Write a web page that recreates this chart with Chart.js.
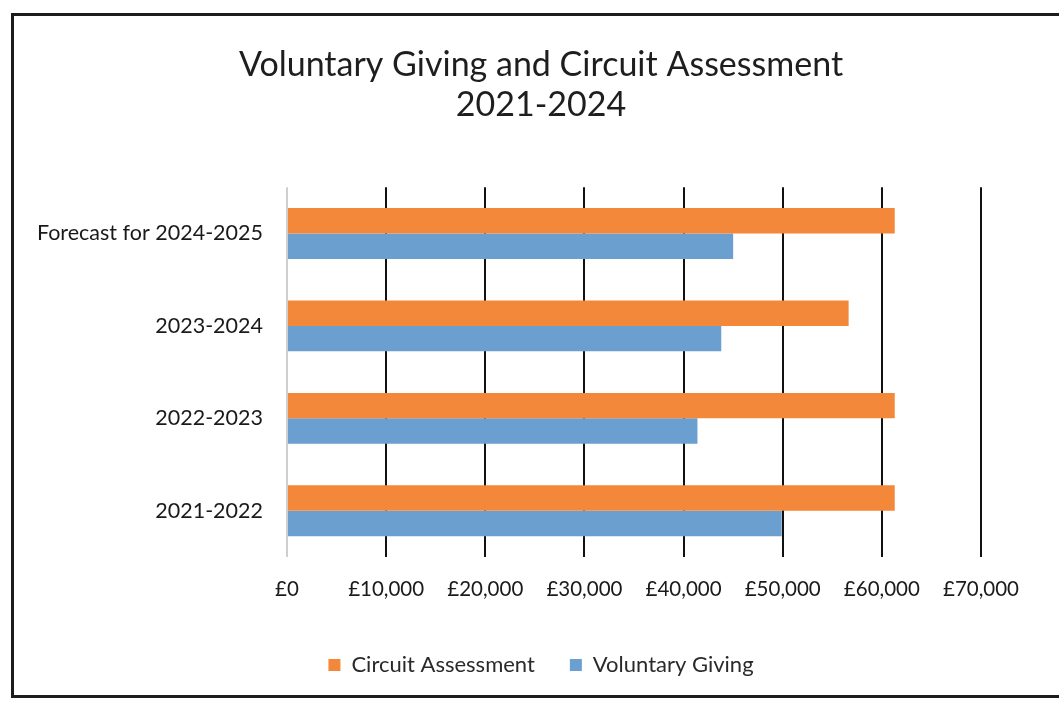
<!DOCTYPE html>
<html lang="en">
<head>
    <meta charset="UTF-8">
    <title>Voluntary Giving and Circuit Assessment</title>
    <script src="https://cdn.jsdelivr.net/npm/chart.js"></script>
    <style>
        body {
            margin: 0;
            background: #ffffff;
            font-family: Lato, sans-serif;
        }
        #wrap {
            position: relative;
            width: 1059px;
            height: 702px;
            overflow: hidden;
        }
        #frame {
            position: absolute;
            left: 11px;
            top: 13px;
            width: 1100px;
            height: 679px;
            border: 3px solid #1c1c1c;
            pointer-events: none;
        }
        canvas {
            position: absolute;
            left: 0;
            top: 0;
        }
    </style>
</head>
<body>
<div id="wrap">
    <canvas id="grafico" width="1059" height="702"></canvas>
    <div id="frame"></div>
</div>

<script>
    // dados
    const categorias = ['Forecast for 2024-2025', '2023-2024', '2022-2023', '2021-2022'];
    const circuitAssessment = [61300, 56650, 61300, 61300];
    const voluntaryGiving = [45000, 43800, 41400, 49900];
    const tickValores = [0, 10000, 20000, 30000, 40000, 50000, 60000, 70000];

    const fonte = 'Lato';

    const ctx = document.getElementById('grafico').getContext('2d');
    new Chart(ctx, {
        type: 'bar',
        data: {
            labels: categorias,
            datasets: [{
                label: 'Circuit Assessment',
                data: circuitAssessment,
                backgroundColor: '#f4883a',
                categoryPercentage: 0.55,
                barPercentage: 1.0
            }, {
                label: 'Voluntary Giving',
                data: voluntaryGiving,
                backgroundColor: '#6b9fcf',
                categoryPercentage: 0.55,
                barPercentage: 1.0
            }]
        },
        options: {
            indexAxis: 'y',
            responsive: false,
            animation: false,
            layout: {
                padding: { left: 24, right: 1, top: 45, bottom: 16 }
            },
            plugins: {
                title: {
                    display: true,
                    text: ['Voluntary Giving and Circuit Assessment', '2021-2024'],
                    color: '#1e1e1e',
                    font: { family: fonte, size: 34, weight: 'normal', lineHeight: 1.18 },
                    padding: { top: 0, bottom: 62 }
                },
                legend: {
                    position: 'bottom',
                    labels: {
                        color: '#2a2a2a',
                        font: { family: fonte, size: 22 },
                        boxWidth: 12,
                        boxHeight: 12,
                        padding: 35
                    }
                },
                tooltip: { enabled: false }
            },
            scales: {
                x: {
                    min: 0,
                    max: 70000,
                    afterBuildTicks: s => { s.ticks = tickValores.map(v => ({ value: v })); },
                    afterFit: s => { s.height = 62; s.paddingLeft = 0; s.paddingRight = 78; },
                    border: { display: false },
                    grid: {
                        drawTicks: false,
                        lineWidth: 2,
                        color: c => c.tick && c.tick.value === 0 ? '#cfcfcf' : '#111111'
                    },
                    ticks: {
                        padding: 20,
                        color: '#1a1a1a',
                        font: { family: fonte, size: 20.5 },
                        callback: v => '£' + v.toLocaleString('en-GB')
                    }
                },
                y: {
                    afterFit: s => { s.width = 263; },
                    border: { display: false },
                    grid: { display: false, drawTicks: false },
                    ticks: {
                        padding: 24,
                        color: '#1a1a1a',
                        font: { family: fonte, size: 21.5 }
                    }
                }
            }
        }
    });
</script>
</body>
</html>
